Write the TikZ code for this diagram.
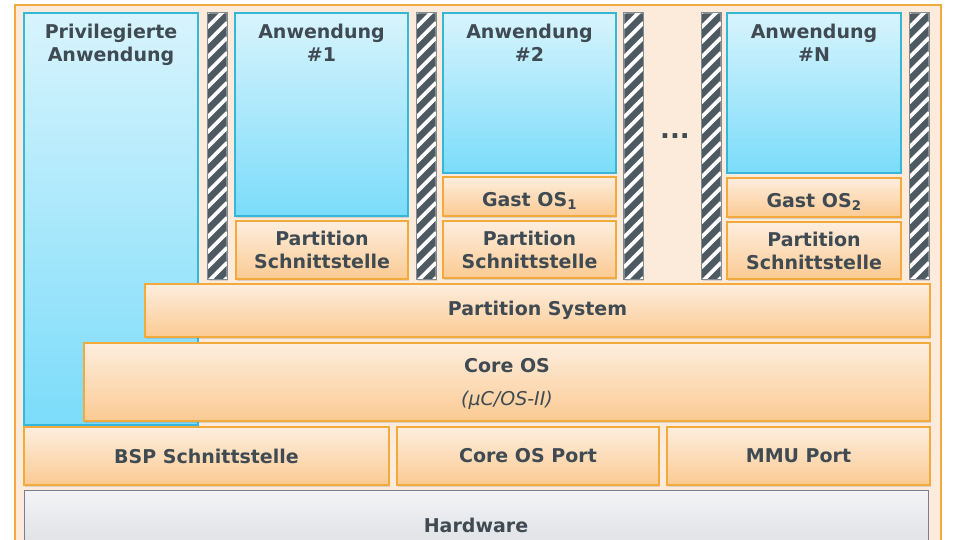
\documentclass[tikz,border=0pt]{standalone}
\usepackage{fontspec}
\setmainfont{DejaVu Sans}[BoldFont=DejaVu Sans Bold, ItalicFont=DejaVu Sans Oblique, BoldItalicFont=DejaVu Sans Bold Oblique]
\usepackage{tikz}
\usetikzlibrary{shadows}
\definecolor{hvtext}{HTML}{3F4A52}
\definecolor{hvframe}{HTML}{FCEADA}
\definecolor{hvorange}{HTML}{F3AA3C}
\definecolor{hvorangetop}{HTML}{FDEEDF}
\definecolor{hvorangebot}{HTML}{FBCA92}
\definecolor{hvcyan}{HTML}{35B7DA}
\definecolor{hvcyantop}{HTML}{D8F4FD}
\definecolor{hvcyanbot}{HTML}{7BDCFA}
\definecolor{hvbar}{HTML}{4E5A61}
\definecolor{hvgray}{HTML}{7C7D92}
\definecolor{hvgraytop}{HTML}{F3F4F6}
\definecolor{hvgraybot}{HTML}{D9DCE1}

\begin{document}
\begin{tikzpicture}[
  x=1pt, y=-1pt,
  every node/.style={font=\fontsize{19}{23}\selectfont\bfseries, text=hvtext, align=center, inner sep=0pt},
  softshadow/.style={drop shadow={shadow xshift=1.2pt, shadow yshift=-1.5pt, opacity=0.25}},
  layer/.style={rectangle, draw=hvorange, line width=1.3pt, top color=hvorangetop, bottom color=hvorangebot, softshadow},
  app/.style={rectangle, draw=hvcyan, line width=1.2pt, top color=hvcyantop, bottom color=hvcyanbot, softshadow},
  hwbox/.style={rectangle, draw=hvgray, line width=1pt, top color=hvgraytop, bottom color=hvgraybot},
  sepbar/.style={rectangle, draw=hvbar!70!white, line width=0.8pt, fill=hvbar, minimum width=19pt, minimum height=266pt, softshadow},
  lbl/.style={anchor=north}
]
\useasboundingbox (0,0) rectangle (960,540);
\clip (0,0) rectangle (960,540);

\node[rectangle, draw=hvorange, line width=1.5pt, fill=hvframe, minimum width=926pt, minimum height=555pt] (frame) at (478,282.5) {};

\node[app, minimum width=174pt, minimum height=412pt] (priv) at (111,219) {};
\node[lbl] (privtxt) at ([yshift=-11pt]priv.north) {Privilegierte\\Anwendung};

\foreach \bx/\bn in {217/sepa, 426/sepb, 633.5/sepc, 711/sepd, 919/sepe} {
  \node[sepbar] (\bn) at (\bx,146) {};
  \begin{scope}
    \clip (\bn.south west) rectangle (\bn.north east);
    \foreach \k in {0,...,19}
      \draw[white, line width=3.8pt] ([yshift=-\k*15pt]\bn.north west) -- ++(20,-20);
  \end{scope}
  \draw[hvbar!70!white, line width=0.8pt] (\bn.south west) rectangle (\bn.north east);
}

\node[app, minimum width=173pt, minimum height=203pt] (app1) at (321.5,114.5) {};
\node[app, minimum width=173pt, minimum height=160pt] (app2) at (529.5,93) {};
\node[app, minimum width=174pt, minimum height=160pt] (appN) at (814,93) {};
\node[lbl] (app1txt) at ([yshift=-11pt]app1.north) {Anwendung\\\#1};
\node[lbl] (app2txt) at ([yshift=-11pt]app2.north) {Anwendung\\\#2};
\node[lbl] (appNtxt) at ([yshift=-11pt]appN.north) {Anwendung\\\#N};
\node[font=\fontsize{26}{28}\selectfont\bfseries] (dots) at (675,136) {...};

\node[layer, minimum width=173pt, minimum height=39pt, text height=19pt, text depth=0pt] (gast1) at (529.5,196.5) {Gast OS\textsubscript{1}};
\node[layer, minimum width=174pt, minimum height=39pt, text height=19pt, text depth=0pt] (gast2) at (814,197.5) {Gast OS\textsubscript{2}};

\node[layer, minimum width=172pt, minimum height=58pt] (pif1) at (322,250) {Partition\\Schnittstelle};
\node[layer, minimum width=173pt, minimum height=57pt] (pif2) at (529.5,249.5) {Partition\\Schnittstelle};
\node[layer, minimum width=174pt, minimum height=57pt] (pif3) at (814,250.5) {Partition\\Schnittstelle};

\node[layer, minimum width=785pt, minimum height=53pt] (partsys) at (537.5,310.5) {Partition System};
\node[layer, minimum width=846pt, minimum height=78pt] (coreos) at (507,382) {};
\node (coreostxt) at (507,366) {Core OS};
\node[font=\fontsize{19}{22}\selectfont\mdseries\itshape] (coreosver) at (507,400) {(μC/OS-II)};

\node[layer, minimum width=365pt, minimum height=58pt] (bsp) at (206.5,456) {BSP Schnittstelle};
\node[layer, minimum width=262pt, minimum height=58pt] (coreport) at (528,456) {Core OS Port};
\node[layer, minimum width=263pt, minimum height=58pt] (mmu) at (798.5,456) {MMU Port};

\node[hwbox, minimum width=904pt, minimum height=70pt] (hw) at (476,525) {Hardware};
\end{tikzpicture}
\end{document}
